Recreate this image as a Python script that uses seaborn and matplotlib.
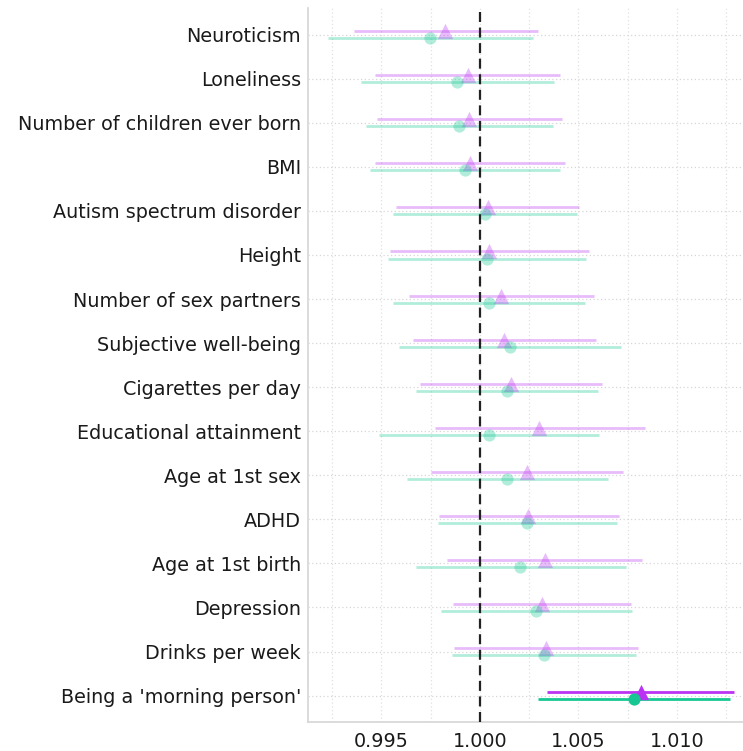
import numpy as np
import pandas as pd
import matplotlib
matplotlib.use("Agg")
import matplotlib.pyplot as plt
from matplotlib.ticker import MultipleLocator
import seaborn as sns

traits = [
    "Neuroticism", "Loneliness", "Number of children ever born", "BMI",
    "Autism spectrum disorder", "Height", "Number of sex partners",
    "Subjective well-being", "Cigarettes per day", "Educational attainment",
    "Age at 1st sex", "ADHD", "Age at 1st birth", "Depression",
    "Drinks per week", "Being a 'morning person'",
]

# purple series (triangles): estimate and confidence interval
est_a = [0.99825, 0.99937, 0.99945, 0.99949, 1.00039, 1.00048, 1.00107, 1.00123,
         1.00157, 1.00301, 1.00237, 1.00245, 1.00329, 1.00317, 1.00334, 1.00816]
lo_a = [0.99361, 0.99465, 0.99477, 0.99465, 0.99574, 0.99545, 0.99641, 0.99661,
        0.99697, 0.99772, 0.99750, 0.99792, 0.99831, 0.99864, 0.99867, 1.00341]
hi_a = [1.00293, 1.00407, 1.00416, 1.00431, 1.00504, 1.00552, 1.00581, 1.00591,
        1.00620, 1.00836, 1.00726, 1.00704, 1.00824, 1.00768, 1.00801, 1.01288]

# teal series (circles): estimate and confidence interval
est_b = [0.99746, 0.99882, 0.99894, 0.99922, 1.00027, 1.00036, 1.00044, 1.00150,
         1.00138, 1.00044, 1.00136, 1.00240, 1.00203, 1.00283, 1.00325, 1.00780]
lo_b = [0.99230, 0.99397, 0.99421, 0.99441, 0.99561, 0.99531, 0.99561, 0.99591,
        0.99676, 0.99489, 0.99629, 0.99787, 0.99673, 0.99802, 0.99858, 1.00295]
hi_b = [1.00267, 1.00375, 1.00370, 1.00407, 1.00494, 1.00540, 1.00531, 1.00715,
        1.00601, 1.00605, 1.00649, 1.00698, 1.00739, 1.00770, 1.00792, 1.01267]

sns.set_style("white")
plt.rcParams["font.family"] = ["DejaVu Sans"]

fig = plt.figure(figsize=(7.43, 7.51), dpi=100)
ax = fig.add_axes([0.4145, 0.0386, 0.5855, 0.9504])

pos = np.arange(len(traits))
series = [
    ("A", est_a, lo_a, hi_a, "#bb33f2", "^", 11.0, -0.08),
    ("B", est_b, lo_b, hi_b, "#17c793", "o", 8.8, 0.08),
]

for name, est, lo, hi, color, marker, ms, off in series:
    df = pd.DataFrame({"trait": traits, "est": est, "lo": lo, "hi": hi})
    df["y"] = pos + off
    df["sig"] = (df["lo"] > 1) | (df["hi"] < 1)
    for sig, sub in df.groupby("sig"):
        alpha = 1.0 if sig else 0.33
        ax.hlines(sub["y"], sub["lo"], sub["hi"], color=color, lw=2.0,
                  alpha=alpha, zorder=3)
        sns.scatterplot(data=sub, x="est", y="y", ax=ax, color=color,
                        marker=marker, s=ms ** 2, linewidth=0, alpha=alpha,
                        zorder=4, legend=False)

ax.axvline(1.0, color="#222222", lw=1.6, ls=(0, (4.5, 2.5)), zorder=5)

ax.set_ylim(len(traits) - 0.4, -0.6)
ax.set_yticks(pos)
ax.set_yticklabels(traits)
ax.xaxis.set_major_locator(MultipleLocator(0.005))
ax.xaxis.set_minor_locator(MultipleLocator(0.0025))
ax.set_xlim(0.99127, 1.01335)
ax.xaxis.set_major_formatter(matplotlib.ticker.FormatStrFormatter("%.3f"))
ax.set_xlabel("")
ax.set_ylabel("")

ax.grid(True, which="both", axis="x", color="#e0e0e0", lw=0.9, ls=(0, (1, 2)))
ax.grid(True, which="major", axis="y", color="#d6d6d6", lw=0.9, ls=(0, (1, 2)))
ax.set_axisbelow(True)

for side in ["top", "right"]:
    ax.spines[side].set_visible(False)
for side in ["left", "bottom"]:
    ax.spines[side].set_color("#d6d6d6")
    ax.spines[side].set_linewidth(1.2)

ax.tick_params(axis="both", which="major", length=3, width=1.2,
               color="#444444", labelsize=13.8, labelcolor="#1a1a1a", pad=2)
ax.tick_params(axis="x", which="major", pad=4)
ax.tick_params(axis="x", which="minor", length=0)

fig.savefig("out.png", dpi=100)
